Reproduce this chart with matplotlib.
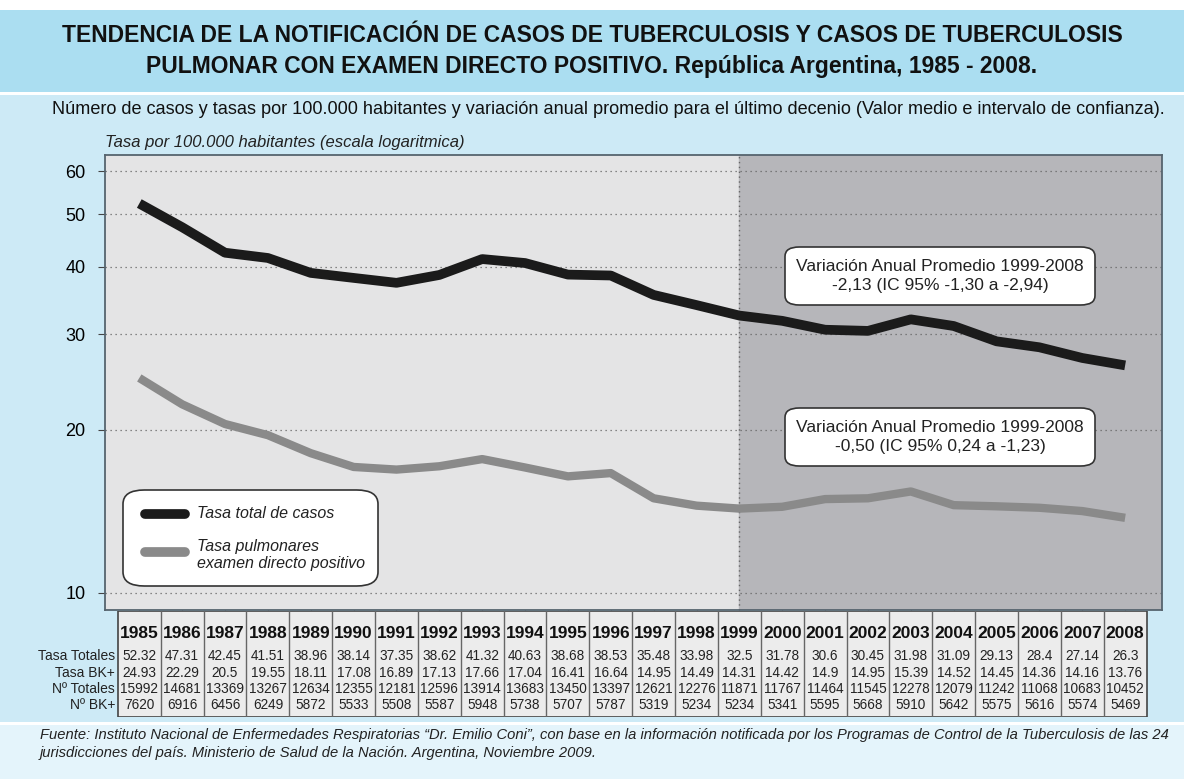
import matplotlib.pyplot as plt
from matplotlib.patches import FancyBboxPatch, Rectangle
from matplotlib.lines import Line2D
from matplotlib.ticker import FixedLocator, NullLocator

years = list(range(1985, 2009))
tasa_totales = [52.32, 47.31, 42.45, 41.51, 38.96, 38.14, 37.35, 38.62, 41.32, 40.63, 38.68, 38.53,
                35.48, 33.98, 32.5, 31.78, 30.6, 30.45, 31.98, 31.09, 29.13, 28.4, 27.14, 26.3]
tasa_bk = [24.93, 22.29, 20.5, 19.55, 18.11, 17.08, 16.89, 17.13, 17.66, 17.04, 16.41, 16.64,
           14.95, 14.49, 14.31, 14.42, 14.9, 14.95, 15.39, 14.52, 14.45, 14.36, 14.16, 13.76]
n_totales = [15992, 14681, 13369, 13267, 12634, 12355, 12181, 12596, 13914, 13683, 13450, 13397,
             12621, 12276, 11871, 11767, 11464, 11545, 12278, 12079, 11242, 11068, 10683, 10452]
n_bk = [7620, 6916, 6456, 6249, 5872, 5533, 5508, 5587, 5948, 5738, 5707, 5787,
        5319, 5234, 5234, 5341, 5595, 5668, 5910, 5642, 5575, 5616, 5574, 5469]
yticks = [10, 20, 30, 40, 50, 60]
row_labels = ["Tasa Totales", "Tasa BK+", "Nº Totales", "Nº BK+"]

W, H = 1184, 779
plt.rcParams['font.family'] = ['Liberation Sans', 'DejaVu Sans']

fig = plt.figure(figsize=(W / 100, H / 100), dpi=100)
fig.patch.set_facecolor('white')

def fx(px):
    return px / W

def fy(py):
    return 1 - py / H

# background bands (behind the axes)
fig.patches.append(Rectangle((0, fy(92)), 1, fy(10) - fy(92), transform=fig.transFigure,
                             facecolor='#abdef1', edgecolor='none', zorder=-2))
fig.patches.append(Rectangle((0, fy(722)), 1, fy(95) - fy(722), transform=fig.transFigure,
                             facecolor='#cdeaf6', edgecolor='none', zorder=-2))
fig.patches.append(Rectangle((0, 0), 1, fy(725), transform=fig.transFigure,
                             facecolor='#e4f4fb', edgecolor='none', zorder=-2))

fig.text(0.5, fy(35), "TENDENCIA DE LA NOTIFICACIÓN DE CASOS DE TUBERCULOSIS Y CASOS DE TUBERCULOSIS",
         ha='center', va='center', fontsize=16.5, fontweight='bold', color='#111111')
fig.text(0.5, fy(66), "PULMONAR CON EXAMEN DIRECTO POSITIVO. República Argentina, 1985 - 2008.",
         ha='center', va='center', fontsize=16.5, fontweight='bold', color='#111111')
fig.text(fx(1165), fy(110), "Número de casos y tasas por 100.000 habitantes y variación anual promedio "
         "para el último decenio (Valor medio e intervalo de confianza).",
         ha='right', va='center', fontsize=13.1, color='#111111')

# main chart
ax = fig.add_axes([fx(105), fy(610), fx(1162) - fx(105), fy(155) - fy(610)])
ax.set_yscale('log')
ax.set_ylim(9.3, 64.3)
ax.set_xlim(1984.2, 2008.86)
ax.set_facecolor('#e4e4e5')
ax.axvspan(1999, 2008.86, color='#b6b6ba', zorder=0)
ax.axvline(1999, color='#666666', linestyle=(0, (1, 2.5)), linewidth=1.0, zorder=1)
for v in yticks:
    ax.axhline(v, color='#666666', linestyle=(0, (1, 3)), linewidth=0.9, zorder=1)
ax.plot(years, tasa_totales, color='#1b1b1b', linewidth=7, solid_capstyle='butt', zorder=3)
ax.plot(years, tasa_bk, color='#8a8a8a', linewidth=6, solid_capstyle='butt', zorder=3)
ax.yaxis.set_major_locator(FixedLocator(yticks))
ax.yaxis.set_minor_locator(NullLocator())
ax.set_yticklabels([str(v) for v in yticks], fontsize=13)
ax.set_xticks(years)
ax.set_xticklabels([])
ax.tick_params(axis='y', length=5, color='#444444', pad=9)
ax.tick_params(axis='x', length=3, color='#444444', direction='out')
for s in ax.spines.values():
    s.set_color('#56646e')
    s.set_linewidth(1.3)

ax.text(0.0, 1.01, "Tasa por 100.000 habitantes (escala logaritmica)", transform=ax.transAxes,
        ha='left', va='bottom', fontsize=12, style='italic', color='#222222')

# annotation boxes
for cy, txt in [(276, "Variación Anual Promedio 1999-2008\n-2,13 (IC 95% -1,30 a -2,94)"),
                (437, "Variación Anual Promedio 1999-2008\n-0,50 (IC 95% 0,24 a -1,23)")]:
    fig.patches.append(FancyBboxPatch((fx(785), fy(cy + 29)), fx(310), fy(cy - 29) - fy(cy + 29),
                                      boxstyle='round,pad=0,rounding_size=0.012',
                                      transform=fig.transFigure, facecolor='white',
                                      edgecolor='#333333', linewidth=1.2, zorder=5))
    fig.text(fx(940), fy(cy), txt, ha='center', va='center', fontsize=12.5,
             linespacing=1.4, color='#222222', zorder=6)

# legend box
fig.patches.append(FancyBboxPatch((fx(123), fy(586)), fx(255), fy(490) - fy(586),
                                  boxstyle='round,pad=0,rounding_size=0.018',
                                  transform=fig.transFigure, facecolor='white',
                                  edgecolor='#333333', linewidth=1.2, zorder=5))
fig.lines.append(Line2D([fx(145), fx(185)], [fy(514), fy(514)], transform=fig.transFigure,
                        color='#1b1b1b', linewidth=7, solid_capstyle='round', zorder=6))
fig.lines.append(Line2D([fx(145), fx(185)], [fy(552), fy(552)], transform=fig.transFigure,
                        color='#8a8a8a', linewidth=7, solid_capstyle='round', zorder=6))
fig.text(fx(197), fy(514), "Tasa total de casos", ha='left', va='center', fontsize=11.5,
         style='italic', color='#222222', zorder=6)
fig.text(fx(197), fy(555), "Tasa pulmonares\nexamen directo positivo", ha='left', va='center',
         fontsize=11.5, style='italic', color='#222222', linespacing=1.2, zorder=6)

# data table under chart
tab = fig.add_axes([fx(105), fy(717), fx(1162) - fx(105), fy(611) - fy(717)])
tab.set_xlim(ax.get_xlim())
tab.set_ylim(717, 611)
tab.axis('off')
tab.add_patch(Rectangle((1984.5, 611), 24, 106, facecolor='#ececec', edgecolor='#444444',
                        linewidth=1.2, zorder=1))
for x in years[1:]:
    tab.plot([x - 0.5, x - 0.5], [611, 717], color='#666666', linewidth=1.0, zorder=2)
row_y = [656, 673, 689, 705]
rows = [tasa_totales, tasa_bk, n_totales, n_bk]
for i, yr in enumerate(years):
    tab.text(yr, 634, str(yr), ha='center', va='center', fontsize=12.5, fontweight='bold',
             color='#111111')
    for ry, vals in zip(row_y, rows):
        tab.text(yr, ry, f"{vals[i]:g}", ha='center', va='center', fontsize=9.8,
                 color='#222222')
for ry, lab in zip(row_y, row_labels):
    fig.text(fx(115), fy(ry), lab, ha='right', va='center', fontsize=10, color='#222222')

fig.text(fx(40), fy(744), "Fuente: Instituto Nacional de Enfermedades Respiratorias \u201cDr. Emilio Coni\u201d, "
         "con base en la información notificada por los Programas de Control de la Tuberculosis de las 24\n"
         "jurisdicciones del país. Ministerio de Salud de la Nación. Argentina, Noviembre 2009.",
         ha='left', va='center', fontsize=10.6, style='italic', color='#222222',
         linespacing=1.3)

fig.savefig('out.png', dpi=100, facecolor=fig.get_facecolor())
